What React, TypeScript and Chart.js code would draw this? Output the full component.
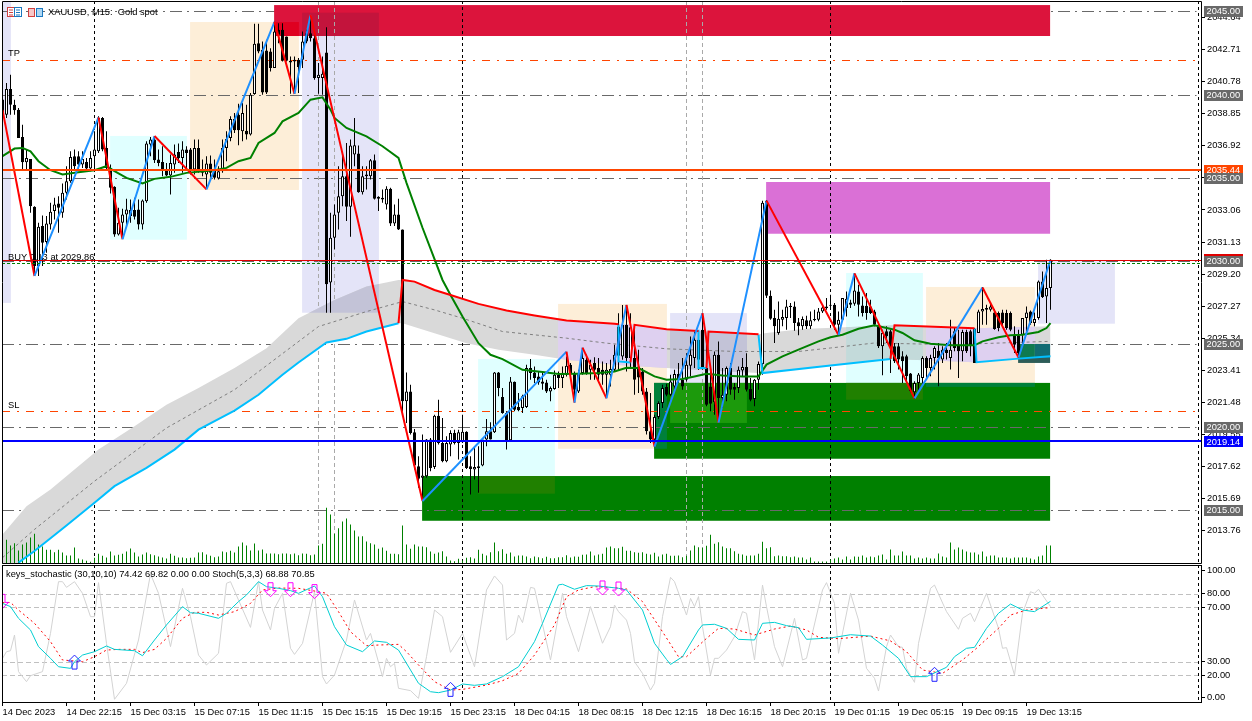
import React, { useEffect, useRef } from "react";
import { Chart, registerables } from "chart.js";

Chart.register(...registerables);

const highs = [2040.3,2040.69,2041.19,2039.69,2039.19,2038.19,2036.69,2036.13,2033.29,2032.29,
2032.73,2032.69,2033.49,2033.79,2033.89,2034.65,2035.69,2036.59,2036.69,2036.59,
2036.59,2036.19,2036.59,2037.79,2038.69,2038.65,2037.79,2035.79,2034.49,2033.19,
2033.13,2033.73,2033.69,2033.79,2033.69,2033.69,2037.19,2037.45,2037.49,2036.69,
2036.89,2035.89,2036.39,2036.99,2037.05,2037.19,2036.89,2036.79,2037.29,2037.29,
2036.09,2036.29,2036.33,2036.09,2035.69,2037.29,2037.79,2038.69,2038.89,2039.45,
2039.49,2039.39,2040.09,2044.25,2044.25,2043.19,2043.29,2042.79,2044.37,2044.29,
2044.29,2043.49,2042.29,2042.29,2042.19,2043.79,2043.89,2044.79,2043.69,2041.89,
2042.29,2044.05,2032.89,2033.39,2035.69,2036.39,2037.09,2037.29,2038.59,2036.93,
2035.69,2035.69,2036.13,2036.39,2033.89,2034.29,2034.49,2034.39,2033.39,2033.73,
2031.89,2023.29,2022.55,2019.89,2018.25,2019.55,2019.29,2019.35,2020.75,2021.65,
2020.55,2019.45,2019.81,2019.85,2019.85,2020.75,2019.75,2018.25,2018.75,2018.85,
2019.25,2020.49,2020.29,2023.31,2023.31,2022.35,2020.95,2023.01,2022.75,2022.05,
2021.95,2023.75,2024.09,2023.65,2023.35,2023.25,2022.85,2022.45,2023.41,2023.35,
2023.65,2024.25,2023.85,2023.35,2023.45,2024.75,2024.35,2024.05,2024.21,2024.15,
2023.95,2023.85,2024.05,2024.95,2026.85,2027.35,2027.35,2026.85,2026.09,2024.65,
2023.55,2022.35,2022.05,2020.75,2021.55,2022.55,2022.61,2023.15,2023.45,2023.85,
2024.15,2024.45,2025.45,2025.75,2025.65,2026.75,2025.25,2023.45,2024.55,2025.15,
2023.55,2023.65,2023.85,2022.65,2023.65,2024.15,2024.45,2022.95,2022.89,2023.95,
2033.62,2033.66,2028.22,2027.06,2027.56,2027.06,2027.66,2027.46,2027.56,2026.56,
2026.66,2026.70,2026.96,2027.06,2027.16,2027.36,2027.76,2027.96,2027.46,2026.96,
2027.76,2028.16,2027.66,2029.26,2028.56,2027.86,2028.06,2027.66,2027.06,2026.26,
2025.86,2026.06,2025.86,2025.06,2025.06,2024.56,2024.36,2023.26,2022.76,2023.26,
2024.26,2024.26,2024.36,2024.86,2025.06,2024.86,2025.06,2026.46,2025.96,2025.86,
2025.86,2025.86,2025.86,2025.96,2027.06,2028.42,2027.36,2027.46,2027.10,2026.96,
2027.06,2027.06,2026.96,2026.06,2025.86,2026.56,2027.26,2027.02,2026.90,2028.82,
2029.36,2030.06,2030.10];

const lows = [2038.6,2038.59,2038.79,2038.79,2037.39,2035.49,2035.49,2032.89,2029.19,2029.09,
2029.69,2030.49,2031.89,2032.49,2031.69,2032.59,2033.69,2034.69,2035.49,2035.49,
2035.59,2035.49,2035.39,2035.49,2036.49,2036.59,2035.49,2034.05,2031.45,2031.53,
2031.33,2032.09,2032.29,2032.49,2031.89,2031.89,2033.49,2036.29,2035.89,2035.69,
2035.09,2035.09,2033.99,2035.29,2035.89,2035.29,2035.49,2035.19,2035.19,2035.29,
2035.09,2034.33,2034.99,2034.89,2034.89,2035.29,2035.99,2037.19,2037.69,2036.95,
2037.19,2037.29,2037.53,2039.99,2042.49,2039.99,2040.03,2041.39,2041.59,2043.09,
2041.99,2041.99,2040.05,2040.05,2040.09,2041.59,2043.09,2043.19,2040.89,2040.05,
2039.99,2026.88,2026.88,2030.69,2031.89,2033.29,2032.39,2031.45,2035.69,2034.09,
2033.99,2034.29,2034.89,2033.69,2032.99,2033.49,2033.09,2032.09,2032.09,2031.85,
2020.95,2020.25,2019.55,2017.45,2016.35,2015.65,2016.95,2017.35,2017.49,2018.95,
2017.89,2017.89,2018.25,2018.95,2018.05,2019.05,2017.49,2015.95,2016.85,2016.05,
2017.65,2018.85,2019.25,2019.65,2021.85,2020.81,2018.65,2019.15,2020.95,2020.95,
2020.85,2021.15,2022.85,2022.65,2022.55,2022.25,2022.05,2021.55,2022.25,2022.35,
2022.35,2023.05,2023.05,2021.49,2022.05,2023.15,2023.15,2022.85,2022.85,2022.65,
2022.55,2021.75,2022.45,2023.35,2023.45,2024.05,2023.35,2023.55,2021.95,2022.05,
2021.95,2019.55,2019.05,2018.85,2020.49,2021.15,2021.85,2021.85,2022.25,2022.65,
2022.25,2022.75,2023.05,2023.55,2023.45,2023.45,2021.25,2020.95,2020.75,2020.35,
2021.15,2021.55,2021.95,2021.65,2022.05,2023.05,2022.15,2021.55,2021.25,2022.25,
2023.15,2027.76,2026.46,2025.06,2025.56,2026.06,2025.86,2026.56,2025.80,2025.52,
2025.86,2025.90,2025.90,2026.36,2026.36,2026.86,2027.06,2027.16,2025.86,2025.56,
2026.36,2026.66,2027.16,2027.30,2026.66,2026.66,2026.46,2026.80,2026.06,2024.76,
2023.12,2025.06,2023.26,2023.86,2023.46,2022.66,2022.66,2022.10,2021.70,2022.06,
2022.46,2022.96,2023.06,2023.46,2022.46,2023.86,2024.06,2023.46,2024.56,2022.96,
2023.96,2024.46,2024.26,2023.86,2025.66,2026.16,2026.16,2026.96,2025.86,2025.76,
2026.06,2025.86,2025.76,2024.46,2024.16,2024.96,2025.56,2026.16,2026.06,2026.46,
2027.76,2026.26,2027.06];

const opens = [2039.7,2038.79,2040.33,2039.39,2039.09,2037.45,2035.93,2036.13,2033.25,2029.69,
2032.09,2031.13,2032.19,2032.99,2033.45,2032.89,2034.09,2034.79,2036.29,2036.29,
2035.79,2035.95,2035.55,2036.29,2036.59,2038.59,2036.79,2035.59,2034.45,2031.59,
2032.29,2032.79,2032.69,2033.05,2033.09,2032.19,2033.59,2036.99,2037.29,2036.09,
2035.95,2035.53,2035.13,2035.79,2036.55,2036.19,2036.69,2036.69,2035.49,2036.79,
2035.53,2035.19,2035.85,2035.49,2034.95,2035.39,2036.79,2037.39,2038.53,2038.79,
2037.79,2037.83,2037.59,2040.03,2043.09,2042.69,2042.65,2042.59,2041.59,2043.89,
2043.89,2043.49,2042.03,2041.99,2042.09,2042.09,2043.69,2043.69,2043.39,2040.99,
2040.99,2042.53,2028.69,2031.39,2032.89,2033.89,2035.09,2033.25,2036.39,2036.45,
2034.13,2035.09,2035.09,2036.05,2033.73,2033.79,2033.39,2034.33,2032.25,2032.79,
2031.89,2021.55,2022.15,2019.69,2017.65,2016.95,2017.05,2019.25,2017.61,2020.69,
2019.05,2017.95,2018.95,2019.65,2019.05,2019.09,2019.73,2017.65,2017.45,2017.65,
2017.69,2019.25,2019.75,2019.69,2023.29,2021.81,2020.85,2019.21,2022.73,2021.21,
2021.15,2021.21,2023.55,2023.29,2023.05,2022.75,2022.69,2022.15,2022.29,2023.15,
2022.95,2023.15,2023.75,2023.25,2022.15,2023.25,2024.05,2023.45,2023.85,2023.55,
2023.45,2023.15,2023.15,2023.45,2024.29,2024.25,2026.15,2024.15,2024.15,2023.65,
2023.35,2022.15,2019.75,2019.25,2020.61,2021.45,2022.41,2021.95,2022.45,2023.19,
2022.85,2022.85,2023.69,2024.15,2025.25,2025.85,2023.55,2022.45,2021.49,2024.35,
2021.75,2021.95,2023.55,2022.41,2022.35,2023.41,2023.61,2022.29,2021.69,2022.85,
2023.79,2033.62,2027.90,2026.56,2025.66,2026.46,2026.56,2027.22,2027.26,2026.30,
2026.06,2026.42,2026.06,2026.42,2026.46,2026.96,2027.26,2027.36,2027.36,2026.16,
2026.46,2027.16,2027.50,2027.42,2028.16,2027.32,2027.30,2027.26,2026.96,2026.16,
2024.86,2025.76,2025.76,2024.86,2024.86,2024.26,2024.26,2023.22,2022.10,2022.66,
2022.96,2024.16,2023.56,2024.16,2024.60,2024.06,2024.66,2024.16,2025.76,2024.96,
2024.56,2025.72,2025.76,2025.92,2025.66,2026.96,2027.16,2027.06,2026.90,2026.86,
2026.90,2026.86,2026.86,2025.56,2025.52,2025.56,2026.56,2026.96,2026.26,2026.56,
2028.76,2027.86,2028.36];

const closes = [2038.8,2040.33,2039.39,2039.05,2037.39,2035.93,2036.19,2033.29,2029.69,2032.05,
2031.09,2032.25,2032.95,2033.39,2033.19,2034.09,2034.79,2036.25,2035.69,2035.79,
2036.13,2035.55,2036.19,2036.69,2038.59,2036.69,2035.59,2034.39,2031.59,2032.29,
2032.79,2033.09,2033.05,2032.65,2032.19,2033.63,2037.05,2037.29,2036.05,2035.89,
2035.49,2035.13,2035.89,2036.39,2036.19,2036.69,2036.49,2035.49,2036.79,2035.49,
2035.29,2035.85,2035.29,2034.99,2035.39,2036.79,2037.33,2038.53,2037.85,2037.85,
2038.89,2037.59,2039.99,2043.05,2042.59,2040.13,2040.13,2041.59,2043.79,2043.59,
2042.03,2042.03,2041.93,2042.09,2041.65,2043.19,2043.19,2043.39,2040.99,2041.19,
2041.25,2028.59,2031.39,2032.79,2033.89,2035.09,2033.25,2036.93,2036.95,2034.13,
2035.09,2035.19,2036.05,2033.73,2033.85,2033.69,2034.33,2032.25,2032.79,2031.89,
2021.55,2022.15,2019.65,2017.69,2016.89,2017.09,2019.25,2017.55,2020.69,2019.05,
2017.95,2019.05,2019.65,2019.05,2019.69,2019.73,2017.55,2017.49,2017.61,2017.55,
2019.25,2019.75,2019.25,2023.29,2022.35,2020.85,2019.21,2022.75,2021.05,2021.01,
2021.85,2023.55,2023.25,2022.95,2022.69,2022.61,2022.15,2022.35,2023.15,2022.95,
2023.19,2023.69,2023.25,2022.25,2023.25,2024.15,2023.25,2023.75,2023.45,2023.15,
2023.15,2023.45,2023.49,2024.35,2026.05,2026.15,2024.15,2026.01,2022.85,2022.99,
2022.15,2019.75,2019.25,2020.61,2021.45,2022.35,2021.95,2022.75,2023.19,2022.85,
2022.45,2023.75,2024.35,2025.25,2024.05,2023.55,2021.35,2021.41,2024.35,2021.75,
2021.95,2023.55,2022.25,2022.25,2023.45,2023.61,2022.25,2021.65,2022.85,2023.79,
2033.50,2027.90,2026.52,2026.06,2026.52,2026.62,2027.26,2027.30,2026.26,2026.06,
2026.50,2026.06,2026.42,2026.50,2026.96,2027.20,2027.16,2027.30,2026.16,2026.46,
2027.76,2027.72,2027.36,2028.22,2027.36,2026.86,2026.86,2026.86,2026.16,2024.86,
2025.66,2025.46,2024.86,2023.96,2024.06,2023.96,2023.06,2022.16,2022.66,2023.16,
2024.16,2023.56,2024.16,2024.76,2024.16,2024.66,2024.46,2024.66,2024.76,2024.56,
2025.72,2024.56,2024.86,2023.86,2026.96,2027.10,2027.06,2027.26,2025.90,2025.96,
2026.26,2025.96,2025.86,2024.96,2024.46,2026.56,2026.90,2026.26,2026.50,2028.76,
2027.82,2028.36,2030.06];

const volumes = [84,71,54,61,39,57,63,78,89,57,51,41,41,34,41,33,24,24,48,15,12,8,5,17,29,23,18,36,24,26,
29,36,45,33,21,27,33,28,25,21,18,15,29,23,18,18,16,17,18,33,34,27,23,19,21,36,34,38,33,51,
63,54,39,60,39,42,30,30,30,28,30,30,28,30,25,30,29,25,27,54,59,167,147,89,106,126,135,117,99,81,
82,66,61,57,44,48,38,29,29,28,114,57,44,57,51,51,49,36,29,33,37,21,9,7,14,9,17,19,15,41,
29,24,34,63,37,43,29,33,21,24,24,21,16,21,19,16,20,16,16,19,19,25,18,21,20,26,27,36,24,27,
29,48,51,46,46,50,38,38,34,32,34,29,27,32,21,27,29,23,23,24,19,23,39,54,49,47,53,86,59,64,
51,46,46,37,29,27,23,24,24,29,65,46,49,22,24,22,22,19,21,18,18,12,18,6,6,6,6,12,15,
18,12,21,12,21,20,24,18,21,19,24,27,12,42,24,24,36,24,24,15,18,15,18,15,15,30,21,18,63,42,
48,42,36,33,33,27,36,21,24,24,18,18,18,15,18,18,18,18,15,12,21,24,54,54];

const timeLabels = ["14 Dec 2023","14 Dec 22:15","15 Dec 03:15","15 Dec 07:15","15 Dec 11:15","15 Dec 15:15","15 Dec 19:15","15 Dec 23:15","18 Dec 04:15","18 Dec 08:15","18 Dec 12:15","18 Dec 16:15","18 Dec 20:15","19 Dec 01:15","19 Dec 05:15","19 Dec 09:15","19 Dec 13:15"];
const timeTickBars = [0,16,32,48,64,80,96,112,128,144,160,176,192,208,224,240,256];
const priceTicks = [2044.64,2042.71,2040.78,2038.85,2036.92,2034.99,2033.06,2031.13,2029.20,2027.27,2025.34,2023.41,2021.48,2019.55,2017.62,2015.69,2013.76];
const stochTickPlaces = [97.4,80,70,30,20,3.7];
const stochTickLabels = ["100.00","80.00","70.00","30.00","20.00","0.00"];

const maBars = [0,3,5,7,9,12,15,19,23,26,28,31,35,38,42,46,53,56,59,62,64,68,70,74,77,80,82,83,86,91,95,99,101,105,110,112,115,119,122,125,130,135,139,144,149,153,156,159,163,166,170,173,176,180,185,189,191,195,199,204,207,210,214,218,223,225,228,232,237,243,245,249,252,255,259,261,262];
const maValues = [2036.29,2036.75,2036.79,2036.59,2035.99,2035.45,2035.19,2035.33,2035.45,2035.69,2035.39,2034.99,2034.65,2034.93,2035.05,2035.29,2035.45,2035.59,2035.99,2036.19,2037.09,2037.69,2038.39,2038.89,2039.69,2039.83,2039.09,2038.59,2037.99,2037.49,2036.89,2036.19,2034.69,2031.99,2028.85,2027.95,2026.65,2025.05,2024.35,2024.09,2023.45,2023.31,2023.19,2023.21,2023.25,2023.35,2023.57,2023.55,2023.05,2022.85,2022.89,2023.05,2023.21,2023.11,2023.05,2023.05,2023.76,2024.26,2024.66,2025.16,2025.40,2025.56,2025.92,2026.12,2025.86,2025.66,2025.22,2025.02,2024.92,2024.92,2025.16,2025.40,2025.52,2025.56,2025.72,2025.96,2026.26];

const upperBars = [0,6,12,18,24,33,41,49,58,66,74,83,91,99,100,103,108,112,119,126,133,141,153,158,166,176,189,191,200,212,223,243,262];
const upperValues = [2013.55,2015.25,2016.25,2017.45,2018.65,2020.05,2021.35,2022.35,2023.55,2024.75,2026.55,2027.65,2028.45,2028.85,2028.85,2028.75,2028.25,2027.95,2027.41,2027.01,2026.71,2026.41,2026.21,2026.15,2025.89,2025.75,2025.59,2025.66,2025.90,2026.02,2026.12,2025.94,2026.06];
const lowerBars = [0,4,8,16,23,28,36,43,49,58,64,70,74,81,86,91,99,100,104,108,116,124,133,141,153,166,189,190,207,223,243,254,262];
const lowerValues = [2010.85,2011.85,2012.55,2014.09,2015.45,2016.45,2017.55,2018.65,2019.85,2020.99,2021.95,2023.15,2023.89,2025.09,2025.31,2025.75,2026.25,2026.25,2025.95,2025.65,2025.05,2024.65,2024.35,2024.05,2023.75,2023.55,2023.25,2023.26,2023.70,2024.10,2023.90,2024.12,2024.26];
const midBars = [0,8,23,41,58,79,91,100,108,115,125,141,151,166,183,199,207,218,237,262];
const midValues = [2012.15,2013.85,2016.75,2019.95,2022.25,2026.05,2026.95,2027.55,2027.05,2026.55,2025.75,2025.35,2025.05,2024.71,2024.55,2024.55,2024.76,2025.06,2024.96,2025.16];

const trendBlueBars = [4,8,16,23,28,36,43,49,58,64,70,74,81,86,91,99,null,154,154,157,null,174,174,176,null,189,190,207,222,null,243,243.5,254,262];
const trendBlueValues = [2011.85,2012.55,2014.09,2015.45,2016.45,2017.55,2018.65,2019.85,2020.99,2021.95,2023.15,2023.89,2025.09,2025.31,2025.75,2026.25,null,2026.15,2023.95,2023.89,null,2025.85,2023.55,2023.55,null,2025.55,2023.25,2023.70,2024.10,null,2025.94,2023.90,2024.12,2024.26];
const trendRedBars = [99,100,103,108,112,119,126,133,141,153,154,null,157,158,166,174,null,176,176.5,189,null,222,223,243];
const trendRedValues = [2026.25,2028.85,2028.75,2028.25,2027.95,2027.41,2027.01,2026.71,2026.41,2026.21,2026.18,null,2023.89,2026.15,2025.89,2025.78,null,2023.55,2025.75,2025.59,null,2024.10,2026.12,2025.94];

const zigzagBars = [0,8,24,30,38,51,68,73,77,105,141,143,145,151,156,163,175,179,191,209,213,228,245,254,262];
const zigzagValues = [2039.08,2029.09,2038.63,2031.30,2037.51,2034.30,2044.37,2040.04,2044.79,2015.56,2024.54,2021.47,2024.78,2021.73,2027.35,2018.83,2026.85,2020.27,2033.62,2025.54,2029.25,2021.73,2028.40,2024.19,2030.05];

const stochMainBars = [0,2,4,7,9,12,14,17,18,20,23,26,28,33,35,38,41,45,47,49,54,56,59,61,64,66,69,72,74,78,80,83,86,90,93,96,99,104,107,109,112,115,118,121,125,129,133,135,139,140,143,146,149,154,156,160,163,166,167,170,174,175,178,181,184,188,190,193,196,199,201,207,212,217,220,224,227,231,236,238,241,243,246,249,252,255,258,262];
const stochMainValues = [72.9,70.5,61.9,53.3,41.0,32.4,26.2,25.0,29.9,34.8,37.3,41.5,39.0,38.0,34.3,45.9,57.0,70.5,66.0,65.6,61.9,65.6,74.2,79.1,88.9,85.2,84.0,82.3,80.3,85.7,77.8,55.7,42.2,37.3,45.2,44.2,38.5,14.0,7.8,7.1,9.0,13.5,12.5,13.5,18.9,26.2,44.7,58.2,86.5,87.0,83.3,86.0,85.7,84.0,82.8,68.0,43.5,31.6,27.9,33.6,53.3,57.0,57.5,54.5,46.4,45.9,58.2,58.9,56.5,55.0,46.4,47.4,49.8,48.8,42.2,32.4,18.9,18.9,25.8,33.6,39.8,40.5,54.5,65.6,72.4,68.0,66.8,74.42];
const stochSignalBars = [0,2,4,8,12,15,20,23,26,29,33,35,38,41,45,48,51,54,58,62,65,69,74,79,81,84,87,91,94,99,101,104,108,112,115,121,125,129,133,138,141,144,148,153,156,160,165,169,171,176,179,183,188,193,197,201,204,209,217,222,226,230,235,240,243,249,252,256,262];
const stochSignalValues = [73.4,73.6,68.0,58.2,44.7,31.2,29.9,33.6,38.5,39.0,39.0,36.6,39.0,47.1,61.9,66.3,66.3,64.3,66.8,72.9,82.8,84.2,84.0,81.5,80.3,66.8,52.0,41.7,42.2,42.7,37.3,27.5,15.2,9.0,9.5,12.7,15.9,21.3,34.8,57.0,77.8,82.8,85.2,84.5,83.5,74.2,52.0,33.6,33.6,47.1,54.5,54.0,49.6,54.0,56.2,53.3,47.9,46.9,48.8,45.2,37.3,23.8,21.3,31.2,38.5,54.5,64.3,68.0,69.82];
const stochFastBars = [0,1,2,3,4,6,7,10,12,14,15,16,18,20,22,23,24,26,28,31,34,37,39,42,45,47,49,51,54,56,57,59,62,64,65,67,68,70,72,73,75,78,80,81,83,86,88,91,92,95,96,97,98,99,102,104,106,108,110,112,115,118,121,123,125,126,128,129,130,132,133,137,140,141,144,147,150,152,153,154,156,157,158,160,162,163,165,167,168,171,172,173,174,175,177,178,179,181,183,185,186,188,190,191,193,195,198,200,201,205,206,208,209,212,214,216,218,219,221,222,224,225,226,228,229,232,233,236,239,240,242,243,246,249,250,251,253,255,257,258,259,262];
const stochFastValues = [32.4,37.3,38.0,49.6,22.6,15.2,19.6,22.6,50.8,88.9,88.9,84.7,88.9,80.3,63.1,63.1,88.2,43.4,2.2,14.0,45.9,94.6,80.3,41.0,84.0,63.1,34.8,27.5,36.1,87.7,88.9,75.4,55.2,88.9,68.0,53.3,69.2,80.3,39.8,35.3,43.4,81.5,18.9,13.5,20.1,45.9,75.4,45.9,50.8,18.9,32.4,26.2,28.7,10.3,8.6,2.9,33.6,68.0,63.1,36.8,50.8,26.2,82.8,93.1,86.4,45.9,50.8,64.3,58.7,84.7,84.0,31.2,80.3,63.1,37.3,70.5,43.5,55.7,71.7,66.8,60.6,50.8,29.9,21.3,9.0,14.0,63.1,92.1,88.9,64.3,76.6,70.5,77.9,55.7,20.1,32.4,32.4,38.5,48.4,66.8,65.6,31.2,86.4,70.5,41.0,26.2,61.9,31.2,32.4,82.8,88.2,72.9,36.1,80.3,60.6,25.0,17.7,8.3,41.0,49.6,41.0,40.5,25.0,14.7,43.4,84.0,86.4,66.8,53.8,61.9,65.6,59.4,80.3,54.5,39.8,40.3,20.1,65.6,81.5,80.3,83.3,70.5];

const sellArrowBars = [0,67,72,78,150,154];
const sellArrowValues = [69.2,77.8,77.8,76.4,79.1,78.3];
const buyArrowBars = [18,112,233];
const buyArrowValues = [34.8,14.7,25.8];

const stochLevels = [80,70,30,20];
const roundLevels = [2045,2040,2035,2030,2025,2020,2015];
const targetLevels = [2042.1,2021.0];
const daySeparatorBars = [23,115,207,299];
const orderSeparatorBars = [79,83,171,175];

// [first bar, last bar, top price, bottom price, colour]
const backZones: [number,number,number,number,string][] = [
  [0.125,2.1,2045.6,2027.47,"#e4e4f8"],
  [26.9,46.1,2037.51,2031.27,"#e0ffff"],
  [46.9,74.1,2044.36,2034.26,"#fdeed8"],
  [74.9,94.1,2044.92,2026.88,"#e4e4f8"],
  [118.9,138.1,2024.10,2016.0,"#e0ffff"],
  [138.9,166.1,2027.41,2018.70,"#fdeed8"],
  [166.9,186.1,2026.86,2020.25,"#e4e4f8"],
  [210.9,230.1,2029.27,2021.65,"#e0ffff"],
  [230.9,258.1,2028.43,2022.42,"#fdeed8"],
  [258.9,278.1,2030.05,2026.22,"#e4e4f8"],
  [104.9,261.9,2017.06,2014.37,"#008000"],
  [162.9,261.9,2022.66,2018.10,"#008000"],
  [118.9,138.1,2017.06,2016.0,"#208000"],
  [162.9,166.1,2022.66,2018.70,"#00803a"],
  [166.9,186.1,2022.66,2020.25,"#1c9a0c"],
  [210.9,230.1,2022.66,2021.65,"#208000"],
  [230.9,258.1,2022.66,2022.42,"#00803a"],
];
const frontZones: [number,number,number,number,string][] = [
  [67.9,261.9,2045.38,2043.52,"#dc143c"],
  [67.9,74.1,2044.36,2043.52,"#df0020"],
  [74.9,94.1,2044.92,2043.52,"#c3143c"],
  [190.9,261.9,2034.74,2031.63,"#da70d6"],
];
const ribbonTints: [number,number,number,number,string][] = [
  [74.9,94.1,2044.92,2026.88,"#c3c3d7"],
  [138.9,166.1,2027.41,2018.70,"#ded0f0"],
  [166.9,186.1,2026.86,2020.25,"#c3c3d7"],
  [210.9,230.1,2029.27,2021.65,"#c3dada"],
  [230.9,258.1,2028.43,2022.42,"#ded0f0"],
];
const darkZones: [number,number,number,number,string][] = [
  [253.9,258.1,2025.0,2024.16,"#0f7a50"],
  [258.1,261.9,2025.0,2024.16,"#116b72"],
  [253.9,261.9,2024.16,2023.86,"#2d5c58"],
];

const FONT = "9.3px 'Liberation Sans'";
const pairs = (xs: (number|null)[], ys: (number|null)[]) => xs.map((x, i) => ({ x: x === null ? (xs[i-1] as number) : x, y: ys[i] }));
const indexOf = (arr: number[]) => arr.map((v, i) => ({ x: i, v }));

function mainPlugin() {
  const rect = (c: any, xs: any, ys: any, z: [number,number,number,number,string]) => {
    const l = xs.getPixelForValue(z[0]), r = xs.getPixelForValue(z[1]);
    const t = ys.getPixelForValue(z[2]), b = ys.getPixelForValue(z[3]);
    c.fillStyle = z[4];
    c.fillRect(l, t, r - l, b - t);
  };
  const hline = (chart: any, p: number, color: string, width: number, dash: number[], endBar: number) => {
    const c = chart.ctx, xs = chart.scales.x, ys = chart.scales.y;
    const y = Math.round(ys.getPixelForValue(p)) + (width === 2 ? 0 : 0.5);
    c.save();
    c.strokeStyle = color; c.lineWidth = width; c.setLineDash(dash);
    c.beginPath(); c.moveTo(chart.chartArea.left, y); c.lineTo(xs.getPixelForValue(endBar), y); c.stroke();
    c.restore();
  };
  const tag = (c: any, ys: any, p: number, label: string, fill: string) => {
    const y = ys.getPixelForValue(p);
    c.fillStyle = fill;
    c.fillRect(1204, Math.round(y) - 5, 39, 11);
    if (!label) return;
    c.fillStyle = "#ffffff";
    c.font = FONT; c.textAlign = "left"; c.textBaseline = "middle";
    c.fillText(label, 1206.5, y + 0.5);
  };
  return {
    id: "mainOverlay",
    beforeDatasetsDraw(chart: any) {
      const c = chart.ctx, xs = chart.scales.x, ys = chart.scales.y, a = chart.chartArea;
      c.save();
      c.beginPath(); c.rect(a.left, a.top, a.right - a.left, a.bottom - a.top); c.clip();
      backZones.forEach((z) => rect(c, xs, ys, z));
      roundLevels.forEach((p) => hline(chart, p, "#696969", 1, [12,5,2,5], 298.5));
      targetLevels.forEach((p) => hline(chart, p, "#ff4500", 1, [8,7,2,7], 298.5));
      frontZones.forEach((z) => rect(c, xs, ys, z));
      [...orderSeparatorBars].forEach((k) => {
        const x = xs.getPixelForValue(k);
        c.save(); c.strokeStyle = "#a9a9a9"; c.setLineDash([4,3]); c.beginPath(); c.moveTo(x, a.top); c.lineTo(x, a.bottom); c.stroke(); c.restore();
      });
      daySeparatorBars.forEach((k) => {
        const x = xs.getPixelForValue(k);
        c.save(); c.strokeStyle = "#000000"; c.setLineDash([3,3]); c.beginPath(); c.moveTo(x, a.top); c.lineTo(x, a.bottom); c.stroke(); c.restore();
      });
      c.fillStyle = "#000000"; c.font = FONT; c.textAlign = "left"; c.textBaseline = "middle";
      c.fillText("TP", 8, 53.5);
      c.fillText("SL", 8, 405.5);
      c.fillText("BUY 0.13 at 2029.86", 8, 257);
      c.restore();
    },
    afterDatasetDraw(chart: any, args: any) {
      if (args.index !== 0) return;
      const c = chart.ctx, xs = chart.scales.x, ys = chart.scales.y, a = chart.chartArea;
      c.save();
      c.beginPath(); c.rect(a.left, a.top, a.right - a.left, a.bottom - a.top); c.clip();
      ribbonTints.forEach((z) => {
        const l = xs.getPixelForValue(z[0]), r = xs.getPixelForValue(z[1]);
        const t = ys.getPixelForValue(z[2]), b = ys.getPixelForValue(z[3]);
        c.save();
        c.beginPath(); c.rect(l, t, r - l, b - t); c.clip();
        c.beginPath();
        upperBars.forEach((k, i) => { c.lineTo(xs.getPixelForValue(k), ys.getPixelForValue(upperValues[i])); });
        for (let i = lowerBars.length - 1; i >= 0; i--) c.lineTo(xs.getPixelForValue(lowerBars[i]), ys.getPixelForValue(lowerValues[i]));
        c.closePath();
        c.fillStyle = z[4];
        c.fill();
        c.restore();
      });
      darkZones.forEach((z) => rect(c, xs, ys, z));
      c.restore();
    },
    afterDatasetsDraw(chart: any) {
      hline(chart, 2030.08, "#e00000", 1, [], 299.875);
      hline(chart, 2029.86, "#008000", 1, [3,2], 299.875);
      hline(chart, 2035.44, "#ff4500", 2, [], 299.875);
      hline(chart, 2019.14, "#0000ff", 2, [], 299.875);
    },
    afterDraw(chart: any) {
      const c = chart.ctx, ys = chart.scales.y, a = chart.chartArea;
      c.save();
      c.strokeStyle = "#000000"; c.lineWidth = 1; c.setLineDash([]);
      c.beginPath();
      c.moveTo(a.left + 0.5, a.bottom - 0.5); c.lineTo(a.left + 0.5, a.top + 0.5); c.lineTo(a.right - 0.5, a.top + 0.5);
      c.lineTo(a.right - 0.5, a.bottom - 0.5); c.lineTo(a.left + 0.5, a.bottom - 0.5);
      c.stroke();
      // icons and title
      c.fillStyle = "#ffffff"; c.fillRect(7, 7, 15, 10); c.fillRect(28, 7, 15, 10);
      c.strokeStyle = "#d04040"; c.strokeRect(7.5, 7.5, 7, 9); c.strokeRect(28.5, 8.5, 6, 8);
      c.strokeStyle = "#1a78c0"; c.strokeRect(14.5, 7.5, 7, 9); c.strokeRect(36.5, 8.5, 6, 8);
      c.fillStyle = "#f8c8c8"; c.fillRect(29, 9, 5, 7);
      c.fillStyle = "#b0d8f4"; c.fillRect(37, 9, 5, 7);
      c.fillStyle = "#d04040"; [9.5,12,14.5].forEach((y) => c.fillRect(9, y, 4, 1));
      c.fillStyle = "#1a78c0"; [9.5,12,14.5].forEach((y) => c.fillRect(16, y, 4, 1));
      c.fillStyle = "#000000"; c.font = FONT; c.textAlign = "left"; c.textBaseline = "middle";
      c.fillText("XAUUSD, M15:  Gold spot", 48, 12.5);
      tag(c, ys, 2035.44, "2035.44", "#ff4500");
      tag(c, ys, 2030.14, "", "#e00000");
      roundLevels.forEach((p) => tag(c, ys, p, p.toFixed(2), "#696969"));
      tag(c, ys, 2019.14, "2019.14", "#0000ff");
      c.restore();
    },
  };
}

function stochPlugin() {
  const arrow = (c: any, x: number, y: number, dir: number, color: string) => {
    c.save();
    c.strokeStyle = color; c.lineWidth = 1;
    c.beginPath();
    c.moveTo(x, y);
    c.lineTo(x - 6, y - dir * 6);
    c.lineTo(x - 2.5, y - dir * 6);
    c.lineTo(x - 2.5, y - dir * 14);
    c.lineTo(x + 2.5, y - dir * 14);
    c.lineTo(x + 2.5, y - dir * 6);
    c.lineTo(x + 6, y - dir * 6);
    c.closePath();
    c.stroke();
    c.restore();
  };
  return {
    id: "stochOverlay",
    beforeDatasetsDraw(chart: any) {
      const c = chart.ctx, xs = chart.scales.x, ys = chart.scales.y, a = chart.chartArea;
      c.save();
      c.strokeStyle = "#c0c0c0"; c.lineWidth = 1; c.setLineDash([5,3]);
      stochLevels.forEach((v) => {
        const y = Math.round(ys.getPixelForValue(v)) + 0.5;
        c.beginPath(); c.moveTo(a.left, y); c.lineTo(a.right - 4, y); c.stroke();
      });
      c.strokeStyle = "#000000"; c.setLineDash([3,3]);
      daySeparatorBars.forEach((k) => {
        const x = xs.getPixelForValue(k);
        c.beginPath(); c.moveTo(x, a.top); c.lineTo(x, a.bottom); c.stroke();
      });
      c.restore();
    },
    afterDatasetsDraw(chart: any) {
      const c = chart.ctx, xs = chart.scales.x, ys = chart.scales.y, a = chart.chartArea;
      c.save();
      c.beginPath(); c.rect(a.left, a.top, a.right - a.left, a.bottom - a.top); c.clip();
      sellArrowBars.forEach((k, i) => arrow(c, xs.getPixelForValue(k), ys.getPixelForValue(sellArrowValues[i]), 1, "#ff00ff"));
      buyArrowBars.forEach((k, i) => arrow(c, xs.getPixelForValue(k), ys.getPixelForValue(buyArrowValues[i]), -1, "#2020ff"));
      c.restore();
      c.save();
      c.fillStyle = "#000000"; c.font = FONT; c.textAlign = "left"; c.textBaseline = "middle";
      c.fillText("keys_stochastic (30,10,10) 74.42 69.82 0.00 0.00 Stoch(5,3,3) 68.88 70.85", 6, 9.5);
      c.restore();
    },
    afterDraw(chart: any) {
      const c = chart.ctx, a = chart.chartArea;
      c.save();
      c.strokeStyle = "#000000"; c.lineWidth = 1;
      c.strokeRect(a.left + 0.5, a.top + 0.5, a.right - a.left - 1, a.bottom - a.top - 1);
      c.restore();
    },
  };
}

const fixWidth = (scale: any) => { scale.width = 50; scale.paddingTop = 0; scale.paddingBottom = 0; scale.paddingLeft = 0; scale.paddingRight = 0; };
const tickFont = { family: "'Liberation Sans'", size: 9.3 };
const xRange = { min: -0.125, max: 299.875, offset: false };

export default function App() {
  const mainRef = useRef<HTMLCanvasElement>(null);
  const stochRef = useRef<HTMLCanvasElement>(null);

  useEffect(() => {
    document.body.style.margin = "0";
    document.body.style.background = "#ffffff";

    const line = (data: any[], color: string, width: number, extra: any = {}) => ({
      type: "line", data, borderColor: color, borderWidth: width, pointRadius: 0, tension: 0, fill: false, spanGaps: false, xAxisID: "x", yAxisID: "y", ...extra,
    });

    const main = new Chart(mainRef.current as any, {
      type: "bar",
      data: {
        datasets: [
          line(pairs(upperBars, upperValues), "transparent", 0, { fill: "+1", backgroundColor: "#d9d9d9", order: 20, label: "Ribbon top" }),
          line(pairs(lowerBars, lowerValues), "transparent", 0, { order: 19, label: "Ribbon bottom" }),
          line(pairs(midBars, midValues), "#808080", 1, { borderDash: [3,3], order: 18, label: "Ribbon middle" }),
          {
            type: "bar", label: "Volume", yAxisID: "volume", xAxisID: "x", order: 17, grouped: false, barThickness: 1, inflateAmount: 0,
            backgroundColor: "#008000", borderWidth: 0,
            data: indexOf(volumes).map((d) => ({ x: d.x, y: d.v })),
          },
          {
            type: "bar", label: "Wicks", yAxisID: "y", xAxisID: "x", order: 16, grouped: false, barThickness: 1, inflateAmount: 0,
            backgroundColor: "#000000", borderWidth: 0,
            data: highs.map((h, i) => ({ x: i, y: [lows[i], h] })),
          },
          {
            type: "bar", label: "Bodies", yAxisID: "y", xAxisID: "x", order: 15, grouped: false, barThickness: 3, inflateAmount: 0,
            backgroundColor: (ctx: any) => (closes[ctx.dataIndex] >= opens[ctx.dataIndex] ? "#ffffff" : "#000000"),
            borderColor: "#000000", borderWidth: 1, borderSkipped: false,
            data: opens.map((o, i) => ({ x: i, y: [o, closes[i]] })),
          },
          line(pairs(maBars, maValues), "#008000", 2, { order: 6, label: "Moving average" }),
          line(pairs(trendBlueBars, trendBlueValues), "#00bfff", 2, { order: 5, label: "Trend up" }),
          line(pairs(trendRedBars, trendRedValues), "#ff0000", 2, { order: 4, label: "Trend down" }),
          line(pairs(zigzagBars, zigzagValues), "#ff0000", 2, {
            order: 3, label: "Zigzag",
            segment: { borderColor: (s: any) => (s.p0.parsed.y < s.p1.parsed.y ? "#1e90ff" : "#ff0000") },
          }),
        ] as any,
      },
      options: {
        responsive: false, animation: false, events: [], maintainAspectRatio: false,
        layout: { padding: { left: 2, right: 0, top: 1, bottom: 1 } },
        plugins: { legend: { display: false }, tooltip: { enabled: false }, filler: { propagate: false } },
        scales: {
          x: { type: "linear", display: false, ...xRange, grid: { offset: false } },
          volume: { type: "linear", display: false, min: -1.5, max: 1686 },
          y: {
            type: "linear", position: "right", min: 2011.77, max: 2045.625,
            afterFit: fixWidth,
            afterBuildTicks: (s: any) => { s.ticks = priceTicks.map((value) => ({ value })); },
            border: { display: false },
            grid: { drawOnChartArea: false, drawTicks: true, tickLength: 3, color: "#000000" },
            ticks: { autoSkip: false, padding: 2, color: "#000000", font: tickFont, callback: (v: any) => Number(v).toFixed(2) },
          },
        },
      } as any,
      plugins: [mainPlugin()],
    } as any);

    const stoch = new Chart(stochRef.current as any, {
      type: "line",
      data: {
        datasets: [
          line(pairs(stochFastBars, stochFastValues), "#d3d3d3", 1, { order: 3, label: "Stoch fast" }),
          line(pairs(stochSignalBars, stochSignalValues), "#ff0000", 1, { borderDash: [2,3], order: 2, label: "Signal" }),
          line(pairs(stochMainBars, stochMainValues), "#00ced1", 1, { order: 1, label: "Main" }),
        ] as any,
      },
      options: {
        responsive: false, animation: false, events: [], maintainAspectRatio: false,
        layout: { padding: { left: 2, right: 0, top: 0, bottom: 0 } },
        plugins: { legend: { display: false }, tooltip: { enabled: false } },
        scales: {
          x: {
            type: "linear", position: "bottom", ...xRange,
            afterFit: (s: any) => { s.height = 18; s.paddingLeft = 0; s.paddingRight = 0; s.paddingTop = 0; s.paddingBottom = 0; },
            afterBuildTicks: (s: any) => { s.ticks = timeTickBars.map((value) => ({ value })); },
            border: { display: false },
            grid: { drawOnChartArea: false, drawTicks: true, tickLength: 3, color: "#000000" },
            ticks: { autoSkip: false, maxRotation: 0, minRotation: 0, align: "start", padding: 1, color: "#000000", font: tickFont, callback: (_v: any, i: number) => timeLabels[i] },
          },
          y: {
            type: "linear", position: "right", min: -0.52, max: 101.18,
            afterFit: fixWidth,
            afterBuildTicks: (s: any) => { s.ticks = stochTickPlaces.map((value) => ({ value })); },
            border: { display: false },
            grid: { drawOnChartArea: false, drawTicks: true, tickLength: 3, color: "#000000" },
            ticks: { autoSkip: false, padding: 2, color: "#000000", font: tickFont, callback: (_v: any, i: number) => stochTickLabels[i] },
          },
        },
      } as any,
      plugins: [stochPlugin()],
    } as any);

    return () => { main.destroy(); stoch.destroy(); };
  }, []);

  return (
    <div style={{ position: "fixed", left: 0, top: 0, width: 1252, height: 721, background: "#ffffff", overflow: "hidden" }}>
      <canvas ref={mainRef} width={1252} height={565} style={{ position: "absolute", left: 0, top: 0, width: 1252, height: 565, display: "block" }} />
      <canvas ref={stochRef} width={1252} height={156} style={{ position: "absolute", left: 0, top: 565, width: 1252, height: 156, display: "block" }} />
    </div>
  );
}
